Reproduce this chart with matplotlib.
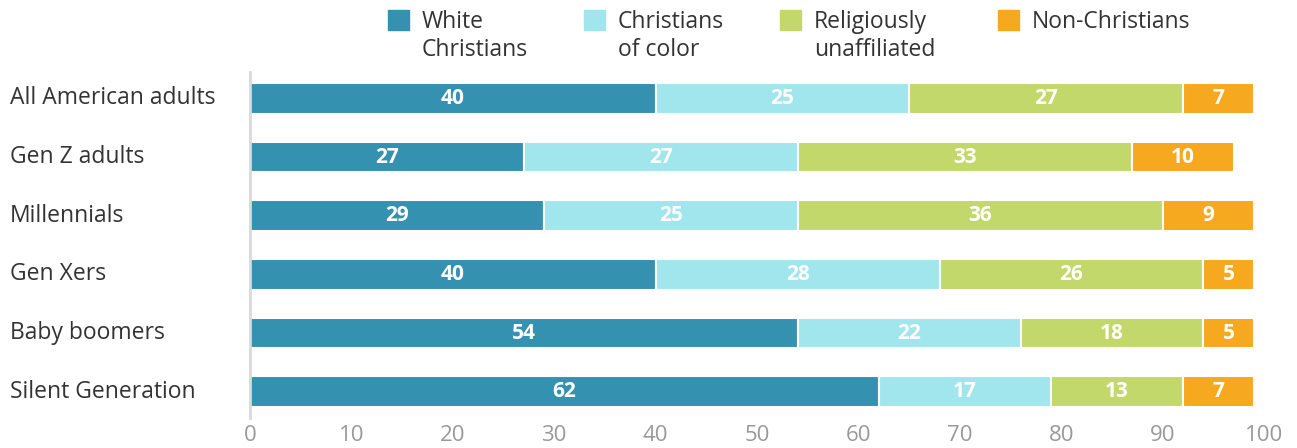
import matplotlib
matplotlib.use("Agg")
import matplotlib.pyplot as plt
from matplotlib.patches import Rectangle
import numpy as np

plt.rcParams['font.family'] = ['Open Sans', 'DejaVu Sans']

categories = ["All American adults", "Gen Z adults", "Millennials", "Gen Xers",
              "Baby boomers", "Silent Generation"]
series_names = ["White\nChristians", "Christians\nof color", "Religiously\nunaffiliated", "Non-Christians"]
white_christians = [40, 27, 29, 40, 54, 62]
christians_of_color = [25, 27, 25, 28, 22, 17]
unaffiliated = [27, 33, 36, 26, 18, 13]
non_christians = [7, 10, 9, 5, 5, 7]
xticks = [0, 10, 20, 30, 40, 50, 60, 70, 80, 90, 100]

colors = ["#3591b0", "#a1e6ec", "#c2d86b", "#f6a81e"]
series = [white_christians, christians_of_color, unaffiliated, non_christians]

W, H = 1297, 448
fig = plt.figure(figsize=(W/100, H/100), dpi=100)
ax_l, ax_r, ax_t, ax_b = 250, 1264, 69, 421
ax = fig.add_axes([ax_l/W, 1 - ax_b/H, (ax_r - ax_l)/W, (ax_b - ax_t)/H])

y = np.arange(len(categories))
left = np.zeros(len(categories))
for vals, col in zip(series, colors):
    vals = np.array(vals, dtype=float)
    ax.barh(y, vals, left=left, height=0.52, color=col, edgecolor="white", linewidth=1.5)
    for yi, l, v in zip(y, left, vals):
        ax.text(l + v/2, yi, f"{int(v)}", ha="center", va="center", color="white",
                fontsize=15, fontweight="bold")
    left += vals

ax.set_ylim(len(categories) - 0.5, -0.5)
ax.set_xlim(0, 100)
ax.set_yticks(y)
ax.set_yticklabels([])
scale = (ax_r - ax_l) / 100
for yi, c in zip(y, categories):
    ax.text(-(ax_l - 10)/scale, yi, c, ha="left", va="center", fontsize=16.5, color="#333333")
ax.set_xticks(xticks)
ax.set_xticklabels([str(t) for t in xticks], fontsize=16, color="#999999")
ax.tick_params(axis="x", length=0, pad=3)
ax.tick_params(axis="y", length=0)
for s in ["top", "right", "bottom"]:
    ax.spines[s].set_visible(False)
ax.spines["left"].set_color("#d9d9d9")
ax.spines["left"].set_linewidth(2)
ax.spines["left"].set_bounds(len(categories) - 0.5 - 0.05, -0.5 + 0.05)

# legend
leg_x = [388, 584, 780, 998]
for xp, name, col in zip(leg_x, series_names, colors):
    fig.patches.append(Rectangle((xp/W, 1 - 30/H), 21/W, 20/H,
                                 transform=fig.transFigure, color=col))
    fig.text((xp + 34)/W, 1 - 10/H, name, ha="left", va="top", fontsize=16.5,
             color="#333333", linespacing=1.24)

fig.savefig("out.png", dpi=100)
